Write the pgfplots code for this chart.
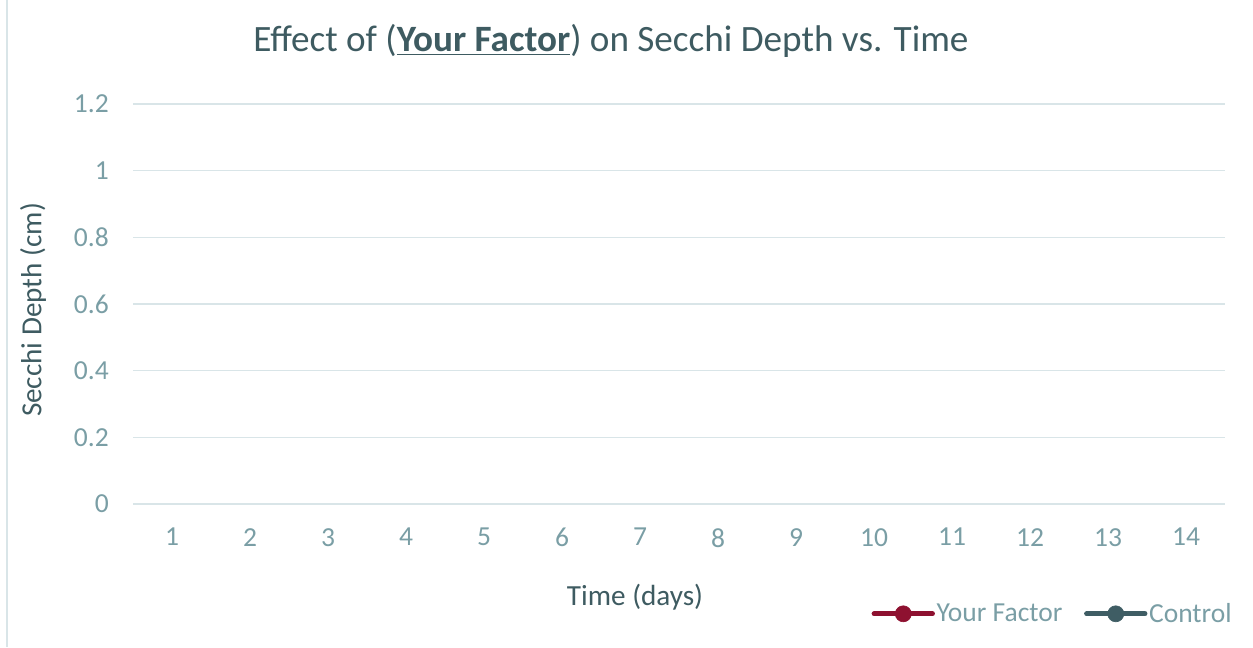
\documentclass[border=0pt]{standalone}
\usepackage{pgfplots}
\pgfplotsset{compat=1.18}
\usepackage{fontspec}
\setmainfont{Carlito}
\definecolor{titlecol}{HTML}{3E5B61}
\definecolor{tickcol}{HTML}{7A9EA5}
\definecolor{gridcol}{HTML}{D9E5E8}
\definecolor{factorcol}{HTML}{8E1130}
\definecolor{controlcol}{HTML}{3F5D64}
\begin{document}
\begin{tikzpicture}[x=1pt,y=1pt]
\useasboundingbox (-79.8,-85.8) rectangle (672,302.4);
\draw[gridcol, line width=0.9pt] (-75.6,-85.8) -- (-75.6,302.4);
\begin{axis}[
  scale only axis,
  width=655.2pt, height=240pt,
  xmin=0.5, xmax=14.5,
  ymin=0, ymax=1.2,
  xtick={1,...,14},
  ytick={0,0.2,...,1.2},
  yticklabels={0,0.2,0.4,0.6,0.8,1,1.2},
  xticklabels={1,2,3,4,5,6,7,8,9,10,11,12,13,14},
  axis line style={draw=none},
  major tick length=0pt,
  ymajorgrids,
  grid style={gridcol, line width=0.9pt},
  tick label style={font=\fontsize{16.5}{19}\selectfont, text=tickcol},
  yticklabel style={xshift=-11pt},
  xticklabel style={yshift=-11pt},
  title={Effect of (\textbf{\underline{Your Factor}}) on Secchi Depth vs. Time},
  title style={at={(axis description cs:0.4377,1.132)}, anchor=center, font=\fontsize{22.3}{26}\selectfont, text=titlecol},
  xlabel={Time (days)},
  xlabel style={at={(axis description cs:0.4597,-0.2325)}, anchor=center, font=\fontsize{17.5}{20}\selectfont, text=titlecol},
  ylabel={Secchi Depth (cm)},
  ylabel style={at={(axis description cs:-0.0916,0.485)}, anchor=center, rotate=0, font=\fontsize{17.5}{20}\selectfont, text=titlecol},
  legend columns=2,
  legend style={at={(axis description cs:1.0125,-0.2745)}, anchor=east, draw=none, fill=none,
    font=\fontsize{16.5}{19}\selectfont, text=tickcol,
    nodes={inner sep=1pt},
    /tikz/every even column/.append style={column sep=12pt}},
  legend cell align=left,
]
\addlegendimage{legend image code/.code={\draw[factorcol, line width=3pt, line cap=round] (0pt,0pt) -- (35pt,0pt); \fill[factorcol] (17.5pt,0pt) circle (4.8pt);}}
\addlegendentry{Your Factor}
\addlegendimage{legend image code/.code={\draw[controlcol, line width=3pt, line cap=round] (0pt,0pt) -- (35pt,0pt); \fill[controlcol] (17.5pt,0pt) circle (4.8pt);}}
\addlegendentry{Control}
\end{axis}
\end{tikzpicture}
\end{document}
